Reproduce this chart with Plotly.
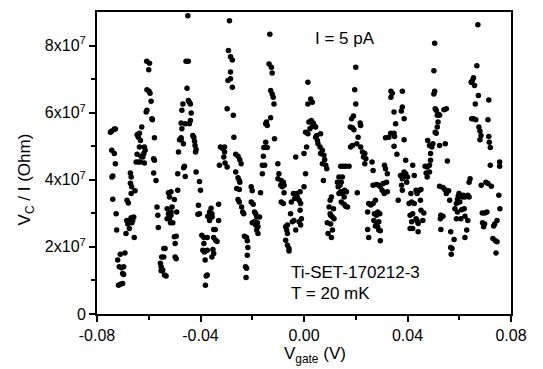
import plotly.graph_objects as go

# Gate voltage (V) and V_C/I values (in units of 1e7 Ohm)
x_a = [-0.0748,-0.0743,-0.0733,-0.0729,-0.0743,-0.0733,-0.0729,-0.0742,-0.0739,-0.0739,
       -0.0726,-0.0724,-0.0720,-0.0710,-0.0692,-0.0714,-0.0705,-0.0697,-0.0701,-0.0697,
       -0.0717,-0.0710,-0.0701,-0.0688,-0.0681,-0.0671,-0.0668,-0.0684,-0.0679,-0.0668,
       -0.0666,-0.0671,-0.0671,-0.0668,-0.0653,-0.0685,-0.0675,-0.0665,-0.0658,-0.0656,
       -0.0662,-0.0645,-0.0636,-0.0640,-0.0627,-0.0632,-0.0636,-0.0645,-0.0630,-0.0617,
       -0.0614,-0.0619,-0.0623,-0.0649,-0.0632,-0.0617,-0.0640,-0.0608,-0.0597,-0.0600,
       -0.0607,-0.0599,-0.0595,-0.0591,-0.0607,-0.0610,-0.0588,-0.0586,-0.0578,-0.0581,
       -0.0578,-0.0581,-0.0572,-0.0568,-0.0565,-0.0563,-0.0552,-0.0546,-0.0555,-0.0542,
       -0.0537,-0.0550,-0.0542,-0.0539,-0.0533,-0.0552,-0.0529,-0.0524,-0.0514,-0.0520,
       -0.0510,-0.0524,-0.0514,-0.0529,-0.0520,-0.0516,-0.0507,-0.0514,-0.0501,-0.0501,
       -0.0494,-0.0498,-0.0498,-0.0494,-0.0488,-0.0492,-0.0488,-0.0485,-0.0481,-0.0475,
       -0.0472,-0.0468,-0.0475,-0.0472,-0.0475,-0.0466,-0.0462,-0.0459,-0.0465,-0.0459,
       -0.0452,-0.0456,-0.0447,-0.0449,-0.0447,-0.0443,-0.0436,-0.0439,-0.0443,-0.0439,
       -0.0430,-0.0426,-0.0423,-0.0421,-0.0417,-0.0419,-0.0417,-0.0404,-0.0400,-0.0408,
       -0.0410,-0.0404,-0.0395,-0.0387,-0.0387,-0.0374,-0.0391,-0.0385,-0.0382,-0.0374,
       -0.0378,-0.0374,-0.0381,-0.0372,-0.0365,-0.0359,-0.0356,-0.0355,-0.0365,-0.0349,
       -0.0343,-0.0349,-0.0342,-0.0336,-0.0352,-0.0349,-0.0356,-0.0330,-0.0330,-0.0327,
       -0.0323,-0.0314,-0.0307,-0.0310,-0.0305,-0.0297,-0.0307,-0.0297,-0.0294,-0.0292,
       -0.0288,-0.0284,-0.0284]
y_a = [5.42,5.45,5.51,5.51,4.88,4.78,4.48,4.08,4.11,3.42,
       2.99,2.50,1.61,1.78,1.82,1.41,1.38,1.41,1.21,1.18,
       0.86,0.89,0.91,2.40,2.68,2.81,2.87,3.39,3.31,3.59,
       3.79,3.90,4.20,4.08,3.67,2.79,2.55,2.72,2.89,2.28,
       2.79,5.34,5.39,5.27,5.57,5.17,4.98,4.76,4.70,4.98,
       4.88,4.78,4.68,4.53,4.53,4.50,4.53,7.53,7.47,7.28,
       6.68,6.64,6.58,6.34,6.07,6.02,5.82,5.79,5.25,4.63,
       4.58,4.20,3.98,3.19,2.94,2.58,1.41,1.31,1.51,1.95,
       1.95,1.70,1.70,1.16,1.13,1.29,3.14,3.61,3.64,3.49,
       3.19,2.99,2.94,2.84,2.84,2.72,2.72,3.04,3.41,2.30,
       2.32,2.10,1.70,1.65,3.69,3.04,4.18,4.83,5.19,5.19,
       6.07,6.26,5.69,5.52,5.25,5.07,4.40,4.10,4.36,5.67,
       6.73,7.53,7.53,8.89,6.36,6.31,5.99,5.77,5.67,6.26,
       5.32,5.27,5.15,5.02,4.90,4.83,4.23,3.95,3.69,3.24,
       2.97,2.99,2.35,2.28,2.10,2.28,1.90,1.85,1.61,1.90,
       1.13,1.16,0.86,2.91,2.79,3.15,2.99,2.89,3.04,2.52,
       2.52,2.28,2.20,2.16,1.92,1.80,1.70,3.27,2.79,4.43,
       4.98,4.93,4.98,4.68,4.50,4.38,4.83,6.12,6.96,7.85,
       8.74,7.21,7.01]

x_b = [-0.0284,-0.0277,-0.0277,-0.0273,-0.0271,-0.0264,-0.0255,-0.0248,-0.0243,-0.0264,
       -0.0255,-0.0250,-0.0248,-0.0260,-0.0250,-0.0255,-0.0250,-0.0241,-0.0237,-0.0233,
       -0.0230,-0.0222,-0.0219,-0.0217,-0.0219,-0.0226,-0.0222,-0.0224,-0.0204,-0.0200,
       -0.0204,-0.0196,-0.0191,-0.0187,-0.0200,-0.0193,-0.0183,-0.0180,-0.0187,-0.0178,
       -0.0183,-0.0178,-0.0172,-0.0168,-0.0161,-0.0161,-0.0155,-0.0157,-0.0152,-0.0142,
       -0.0148,-0.0148,-0.0142,-0.0145,-0.0129,-0.0129,-0.0123,-0.0119,-0.0116,-0.0135,
       -0.0126,-0.0123,-0.0132,-0.0114,-0.0101,-0.0097,-0.0101,-0.0088,-0.0090,-0.0084,
       -0.0080,-0.0077,-0.0088,-0.0080,-0.0077,-0.0071,-0.0064,-0.0067,-0.0064,-0.0071,
       -0.0064,-0.0058,-0.0058,-0.0052,-0.0049,-0.0045,-0.0039,-0.0041,-0.0036,-0.0032,
       -0.0028,-0.0026,-0.0019,-0.0015,-0.0013,-0.0015,-0.0010,-0.0019,-0.0032,-0.0013,
       0.0000,0.0006,0.0010,0.0000,0.0015,0.0015,0.0026,0.0032,0.0006,0.0015,
       0.0023,0.0019,0.0028,0.0036,0.0039,0.0032,0.0045,0.0049,0.0052,0.0054,
       0.0045,0.0064,0.0062,0.0071,0.0064,0.0077,0.0080,0.0071,0.0084,0.0075,
       0.0088,0.0097,0.0101,0.0090,0.0093,0.0103,0.0110,0.0103,0.0110,0.0106,
       0.0116,0.0101,0.0106,0.0114,0.0129,0.0135,0.0132,0.0139,0.0144,0.0148,
       0.0142,0.0152,0.0161,0.0174,0.0135,0.0142,0.0148,0.0155,0.0144,0.0155,
       0.0161,0.0168,0.0157,0.0164,0.0180,0.0187,0.0179,0.0184,0.0187,0.0193,
       0.0191,0.0200,0.0196,0.0200,0.0204,0.0206,0.0209,0.0217,0.0219,0.0219,
       0.0226,0.0230,0.0235,0.0239,0.0235]
y_b = [7.67,7.57,6.76,5.92,5.27,4.76,4.70,4.60,4.48,4.23,
       4.06,3.98,3.93,3.74,3.71,3.41,3.34,3.19,3.04,2.99,
       2.32,2.28,2.18,1.98,1.75,1.41,1.36,1.09,3.79,3.67,
       3.34,3.27,3.04,2.99,2.72,2.75,2.89,2.72,2.65,2.60,
       2.50,2.40,2.89,3.61,4.43,4.18,4.96,4.70,4.43,4.96,
       5.12,5.67,5.62,5.72,5.85,6.66,6.56,6.46,6.26,7.45,
       7.35,7.18,8.34,5.22,4.48,4.18,4.03,3.98,3.84,3.79,
       3.93,3.84,3.34,3.29,3.61,2.60,2.65,2.50,2.40,2.20,
       2.05,1.95,1.88,2.99,3.34,2.75,2.79,3.59,3.44,4.68,
       3.59,3.49,3.39,3.64,3.29,3.09,2.84,2.75,2.50,2.65,
       3.79,4.18,4.98,4.78,6.91,6.26,6.41,6.31,5.42,5.37,
       5.52,5.72,5.77,5.69,5.62,5.59,5.57,5.32,5.17,5.07,
       5.27,5.37,4.98,4.88,4.78,4.73,4.60,4.48,4.43,3.98,
       4.33,3.19,2.99,2.72,2.40,2.68,2.89,2.94,2.50,2.28,
       2.84,3.39,3.49,3.14,3.93,4.08,3.79,3.84,3.93,4.08,
       4.40,4.40,4.40,4.40,3.59,3.64,3.59,3.49,3.34,3.27,
       3.21,3.19,3.69,3.64,4.98,5.02,5.57,5.82,5.55,5.49,
       5.90,7.35,6.68,6.26,5.07,3.61,5.27,5.69,5.62,4.98,
       4.83,4.68,4.78,4.63,4.48]

x_c = [0.0263,0.0267,0.0267,0.0280,0.0289,0.0295,0.0302,0.0306,0.0311,0.0315,
       0.0322,0.0319,0.0322,0.0310,0.0250,0.0258,0.0267,0.0276,0.0246,0.0272,
       0.0280,0.0285,0.0293,0.0270,0.0280,0.0289,0.0276,0.0285,0.0289,0.0295,
       0.0246,0.0250,0.0295,0.0328,0.0315,0.0335,0.0348,0.0350,0.0336,0.0341,
       0.0336,0.0380,0.0380,0.0376,0.0387,0.0348,0.0354,0.0348,0.0359,0.0387,
       0.0393,0.0373,0.0380,0.0389,0.0377,0.0380,0.0364,0.0387,0.0393,0.0400,
       0.0397,0.0420,0.0426,0.0413,0.0416,0.0406,0.0426,0.0433,0.0437,0.0446,
       0.0452,0.0410,0.0420,0.0433,0.0437,0.0441,0.0416,0.0420,0.0410,0.0441,
       0.0450,0.0452,0.0463,0.0459,0.0468,0.0476,0.0472,0.0476,0.0485,0.0485,
       0.0478,0.0485,0.0494,0.0489,0.0489,0.0498,0.0507,0.0511,0.0515,0.0518,
       0.0515,0.0511,0.0520,0.0524,0.0507,0.0505,0.0502,0.0502,0.0505,0.0524,
       0.0541,0.0550,0.0546,0.0554,0.0524,0.0537,0.0544,0.0550,0.0559,0.0563,
       0.0529,0.0527,0.0537,0.0529,0.0567,0.0567,0.0572,0.0569,0.0580,0.0583,
       0.0589,0.0593,0.0596,0.0599,0.0606,0.0612,0.0616,0.0622,0.0633,0.0638,
       0.0602,0.0593,0.0609,0.0619,0.0606,0.0589,0.0622,0.0633,0.0629,0.0622,
       0.0638,0.0642,0.0646,0.0655,0.0651,0.0659,0.0668,0.0672,0.0648,0.0655,
       0.0664,0.0662,0.0674,0.0676,0.0680,0.0684,0.0680,0.0714,0.0711,0.0714,
       0.0716,0.0720,0.0720,0.0685,0.0703,0.0711,0.0724,0.0689,0.0699,0.0707,
       0.0690,0.0698,0.0694,0.0753,0.0757,0.0756,0.0756,0.0746,0.0737,0.0733,
       0.0730,0.0740,0.0746,0.0742]
y_c = [4.53,4.28,3.84,3.86,3.84,3.79,3.69,3.89,4.43,4.33,
       4.18,3.93,3.64,3.59,3.29,3.25,3.29,3.39,3.04,2.99,
       2.94,3.04,2.99,2.79,2.72,2.75,2.62,2.60,2.50,2.48,
       2.52,2.28,2.18,5.27,5.25,5.39,5.39,5.29,6.64,6.58,
       6.46,6.64,6.17,6.05,5.82,6.02,5.67,5.00,4.76,5.19,
       4.58,4.13,4.03,4.10,3.84,3.69,3.39,4.23,4.18,4.08,
       3.93,4.43,4.13,3.59,3.34,3.29,3.29,3.69,3.59,3.69,
       3.71,2.94,2.99,2.84,2.78,2.70,2.75,2.55,2.55,2.45,
       3.39,3.09,3.01,2.79,4.40,4.38,4.20,4.08,4.23,4.43,
       5.17,5.02,4.98,4.78,4.58,5.07,5.42,5.39,5.57,5.72,
       5.92,6.07,5.95,5.92,6.12,6.64,6.56,7.25,8.07,5.02,
       6.09,6.12,5.07,4.56,3.81,3.77,3.71,3.59,3.67,3.39,
       2.94,2.84,2.91,2.52,2.45,1.98,1.95,1.78,2.22,3.14,
       3.29,3.41,3.51,3.59,3.54,3.49,3.54,3.49,3.54,3.49,
       3.34,3.04,3.11,3.14,2.84,2.84,2.91,2.79,2.50,2.28,
       3.93,4.03,6.91,7.04,6.96,6.81,7.40,8.62,5.82,5.82,
       5.79,6.26,6.51,5.57,5.45,5.32,5.19,6.38,5.79,5.29,
       5.12,4.96,4.43,3.84,3.93,3.89,3.81,3.01,3.01,3.04,
       2.72,2.68,2.60,3.54,3.14,4.53,4.40,2.79,2.68,2.62,
       2.25,2.18,2.15,1.82]

UNIT = 1e7
vgate = x_a + x_b + x_c
resistance = [v * UNIT for v in (y_a + y_b + y_c)]

x_ticks = [-0.08, -0.04, 0.0, 0.04, 0.08]
x_ticklabels = ["-0.08", "-0.04", "0.00", "0.04", "0.08"]
x_minor = [-0.06, -0.02, 0.02, 0.06]
y_ticks = [0, 2e7, 4e7, 6e7, 8e7]
y_ticklabels = ["0", "2x10<sup>7</sup>", "4x10<sup>7</sup>", "6x10<sup>7</sup>", "8x10<sup>7</sup>"]
y_minor = [1e7, 3e7, 5e7, 7e7]

FONT = "Liberation Sans, Arial, sans-serif"

fig = go.Figure(go.Scatter(
    x=vgate, y=resistance, mode="markers",
    marker=dict(color="black", size=5.5, line=dict(width=0)),
    showlegend=False,
))

txt_font = dict(size=17, color="black", family=FONT)
fig.add_annotation(x=0.0034, y=8.2e7, text="I = 5 pA", showarrow=False,
                   xanchor="left", yanchor="middle", font=txt_font)
fig.add_annotation(x=-0.0058, y=1.25e7, text="Ti-SET-170212-3", showarrow=False,
                   xanchor="left", yanchor="middle", font=txt_font)
fig.add_annotation(x=-0.0058, y=0.62e7, text="T = 20 mK", showarrow=False,
                   xanchor="left", yanchor="middle", font=txt_font)
# axis titles
fig.add_annotation(xref="paper", yref="paper", x=0.527, y=-0.135,
                   text="V<sub>gate</sub> (V)", showarrow=False,
                   xanchor="center", yanchor="middle", font=txt_font)
fig.add_annotation(xref="paper", yref="paper", x=-0.172, y=0.445,
                   text="V<sub>C</sub> / I (Ohm)", showarrow=False, textangle=-90,
                   xanchor="center", yanchor="middle", font=txt_font)

axis_common = dict(
    showgrid=False, zeroline=False, showline=True, linecolor="black", linewidth=2,
    mirror=True, ticks="outside", ticklen=6, tickwidth=1.5, tickcolor="black",
    tickfont=dict(size=16, color="black", family=FONT), automargin=False,
)

# page body has an 8 px margin; the figure fills the rest of the 543x369 window
fig.update_layout(
    width=535, height=361,
    margin=dict(l=89, r=32, t=4, b=55),
    paper_bgcolor="white", plot_bgcolor="white",
    font=dict(family=FONT, color="black"),
    xaxis=dict(range=[-0.08, 0.08], tickvals=x_ticks, ticktext=x_ticklabels,
               minor=dict(tickvals=x_minor, ticks="outside", ticklen=4, tickwidth=1.5, tickcolor="black"),
               **axis_common),
    yaxis=dict(range=[0, 9e7], tickvals=y_ticks, ticktext=y_ticklabels,
               minor=dict(tickvals=y_minor, ticks="outside", ticklen=4, tickwidth=1.5, tickcolor="black"),
               **axis_common),
)

fig.write_html("out.html")
